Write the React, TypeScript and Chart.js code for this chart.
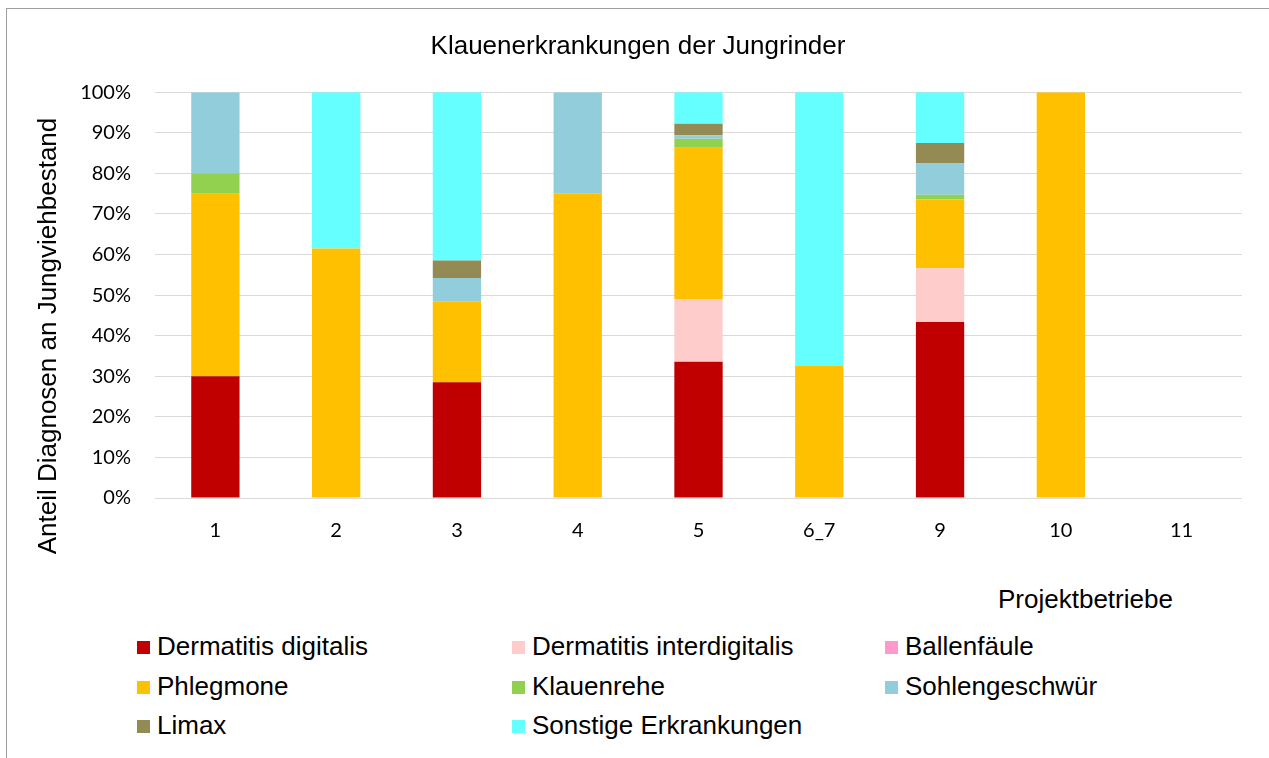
import React, { useEffect, useRef } from "react";
import { Chart, registerables } from "chart.js";

Chart.register(...registerables);

const categories = ["1", "2", "3", "4", "5", "6_7", "9", "10", "11"];
const dermatitisDigitalis = [30, 0, 28.5, 0, 33.6, 0, 43.4, 0, 0];
const dermatitisInterdigitalis = [0, 0, 0, 0, 15.3, 0, 13.2, 0, 0];
const ballenfaeule = [0, 0, 0, 0, 0, 0, 0, 0, 0];
const phlegmone = [45, 61.5, 20.0, 75, 37.4, 32.5, 17.0, 100, 0];
const klauenrehe = [5, 0, 0, 0, 2.2, 0, 1.1, 0, 0];
const sohlengeschwuer = [20, 0, 5.7, 25, 0.9, 0, 7.7, 0, 0];
const limax = [0, 0, 4.3, 0, 2.8, 0, 5.1, 0, 0];
const sonstige = [0, 38.5, 41.5, 0, 7.8, 67.5, 12.5, 0, 0];

const seriesNames = [
  "Dermatitis digitalis",
  "Dermatitis interdigitalis",
  "Ballenfäule",
  "Phlegmone",
  "Klauenrehe",
  "Sohlengeschwür",
  "Limax",
  "Sonstige Erkrankungen",
];
const seriesColors = [
  "#c00000",
  "#ffcccc",
  "#ff99cc",
  "#ffc000",
  "#92d050",
  "#92cddc",
  "#948a54",
  "#66ffff",
];
const seriesValues = [
  dermatitisDigitalis,
  dermatitisInterdigitalis,
  ballenfaeule,
  phlegmone,
  klauenrehe,
  sohlengeschwuer,
  limax,
  sonstige,
];

const chartTitle = "Klauenerkrankungen der Jungrinder";
const yAxisTitle = "Anteil Diagnosen an Jungviehbestand";
const xAxisTitle = "Projektbetriebe";
const yTicks = [0, 10, 20, 30, 40, 50, 60, 70, 80, 90, 100];

const TEXT_FONT = '"Liberation Sans", Arial, sans-serif';
const TICK_FONT = 'Lato, "Liberation Sans", Arial, sans-serif';

export default function App() {
  const canvasRef = useRef<HTMLCanvasElement | null>(null);

  useEffect(() => {
    document.documentElement.style.overflow = "hidden";
    const canvas = canvasRef.current;
    if (!canvas) return;
    const chart = new Chart(canvas, {
      type: "bar",
      data: {
        labels: categories,
        datasets: seriesNames.map((name, i) => ({
          label: name,
          data: seriesValues[i],
          backgroundColor: seriesColors[i],
          borderWidth: 0,
          barPercentage: 0.4,
          categoryPercentage: 1.0,
        })),
      },
      options: {
        responsive: false,
        animation: false,
        devicePixelRatio: 1,
        layout: { padding: { left: 27, right: 26, top: 0, bottom: 0 } },
        plugins: {
          legend: { display: false },
          tooltip: { enabled: false },
          title: {
            display: true,
            text: chartTitle,
            color: "#000",
            font: { family: TEXT_FONT, size: 26, weight: "normal", lineHeight: 1.2 },
            padding: { top: 22, bottom: 30 },
          },
        },
        scales: {
          x: {
            stacked: true,
            grid: { display: false, drawTicks: false },
            border: { display: false },
            ticks: {
              color: "#000",
              padding: 21,
              font: { family: TICK_FONT, size: 20, lineHeight: 1.2 },
              maxRotation: 0,
            },
          },
          y: {
            stacked: true,
            min: 0,
            max: 100,
            afterFit: (scale: any) => {
              scale.width = 121;
            },
            afterBuildTicks: (scale: any) => {
              scale.ticks = yTicks.map((v) => ({ value: v }));
            },
            grid: { color: "#d9d9d9", lineWidth: 1, drawTicks: false },
            border: { display: false },
            ticks: {
              color: "#000",
              padding: 24,
              font: { family: TICK_FONT, size: 20, lineHeight: 1.2 },
              callback: (v: any) => `${v}%`,
            },
          },
        },
      },
    });
    return () => chart.destroy();
  }, []);

  return (
    <>
      <div
        style={{
          position: "absolute",
          left: 6,
          top: 8,
          width: 1300,
          height: 800,
          border: "1px solid #9e9e9e",
          background: "#fff",
        }}
      >
        <canvas
          ref={canvasRef}
          width={1261}
          height={555}
          style={{ position: "absolute", left: 0, top: 0, width: 1261, height: 555 }}
        />
      </div>
      <div
        style={{
          position: "absolute",
          left: 47 - 250,
          top: 336 - 13,
          width: 500,
          height: 26,
          lineHeight: "26px",
          fontFamily: TEXT_FONT,
          fontSize: 26,
          color: "#000",
          textAlign: "center",
          whiteSpace: "nowrap",
          transform: "rotate(-90deg)",
        }}
      >
        {yAxisTitle}
      </div>
      <div
        style={{
          position: "absolute",
          left: 998,
          top: 586,
          height: 26,
          lineHeight: "26px",
          fontFamily: TEXT_FONT,
          fontSize: 26,
          color: "#000",
          whiteSpace: "nowrap",
        }}
      >
        {xAxisTitle}
      </div>
      <div
        style={{
          position: "absolute",
          left: 137,
          top: 633,
          display: "grid",
          gridTemplateColumns: "375px 373px 300px",
          gridAutoRows: "39.5px",
        }}
      >
        {seriesNames.map((name, i) => (
          <div
            key={name}
            style={{
              position: "relative",
              height: 26,
              lineHeight: "26px",
              fontFamily: TEXT_FONT,
              fontSize: 26,
              color: "#000",
              whiteSpace: "nowrap",
              paddingLeft: 20,
            }}
          >
            <span
              style={{
                position: "absolute",
                left: 0,
                top: 8,
                width: 13,
                height: 13,
                background: seriesColors[i],
              }}
            />
            {name}
          </div>
        ))}
      </div>
    </>
  );
}
